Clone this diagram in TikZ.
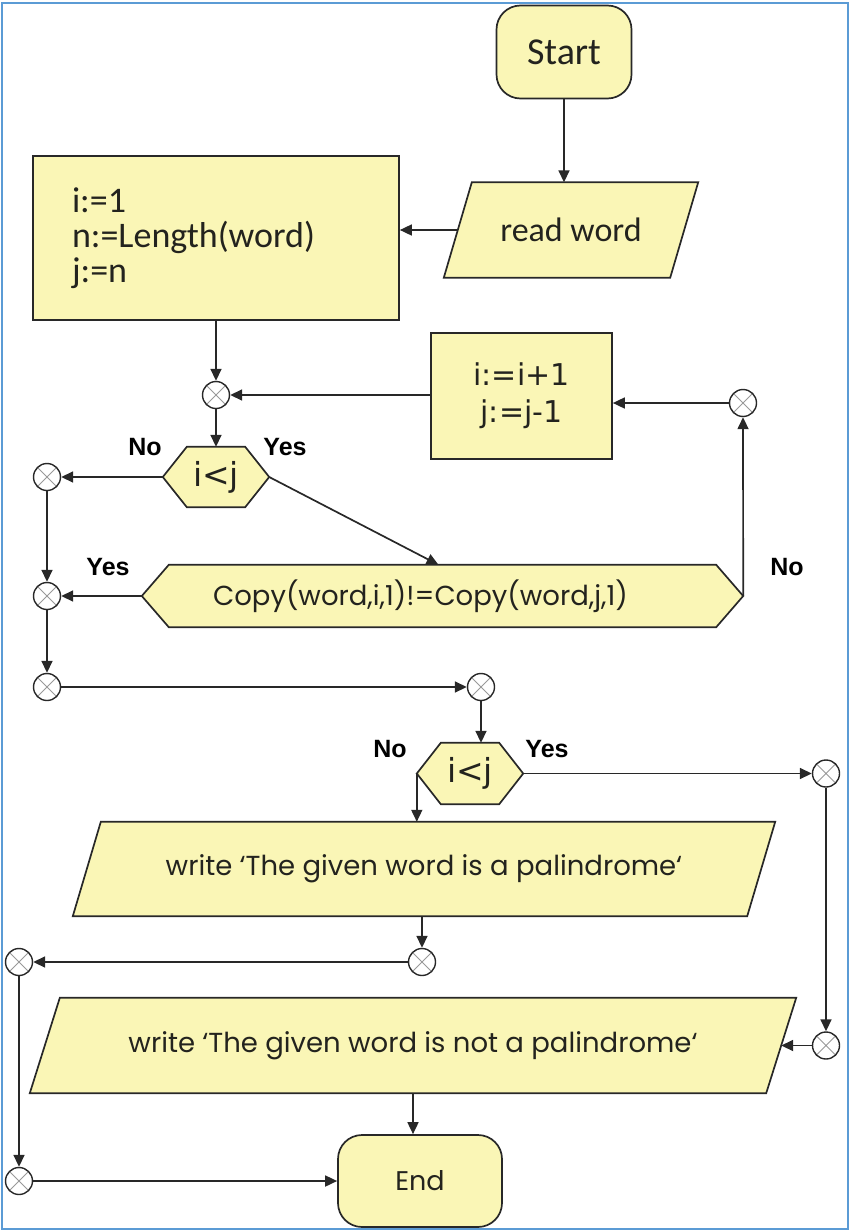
\documentclass[tikz,border=0pt]{standalone}
\usepackage{fontspec}
\setmainfont{Carlito}
\newfontfamily\geofont{Poppins}
\newfontfamily\labfont{Liberation Sans}
\newfontfamily\dvfont{DejaVu Sans}
\usetikzlibrary{arrows.meta,backgrounds,calc}

\definecolor{boxfill}{RGB}{250,246,182}
\definecolor{edgecol}{RGB}{40,40,40}
\definecolor{framecol}{RGB}{91,155,213}
\definecolor{inkcol}{RGB}{35,35,30}

% outline of a six-sided decision box built on a plain rectangular node
\newcommand{\hexpath}[2]{(#1.west) -- ([xshift=#2]#1.north west) -- ([xshift=-#2]#1.north east) -- (#1.east) -- ([xshift=-#2]#1.south east) -- ([xshift=#2]#1.south west) -- cycle}
% outline of an input/output parallelogram built on a plain rectangular node
\newcommand{\parapath}[2]{([xshift=#2]#1.north west) -- (#1.north east) -- ([xshift=-#2]#1.south east) -- (#1.south west) -- cycle}

\tikzset{
  shapeline/.style={draw=edgecol, line width=1.7pt, fill=boxfill},
  procbox/.style={shapeline, rectangle, inner sep=0pt, text=inkcol},
  termbox/.style={shapeline, rectangle, rounded corners=24pt, inner sep=0pt, text=inkcol},
  plainbox/.style={rectangle, draw=none, inner sep=0pt, text=inkcol},
  junction/.style={circle, draw=edgecol, fill=white, line width=1.4pt, minimum size=27pt, inner sep=0pt,
    path picture={\draw[black!40, line width=0.9pt]
      (path picture bounding box.north west) -- (path picture bounding box.south east)
      (path picture bounding box.north east) -- (path picture bounding box.south west);}},
  flow/.style={draw=edgecol, line width=1.7pt, -{Triangle[length=12pt,width=11pt]}},
  branch/.style={font=\labfont\bfseries\fontsize{25}{30}\selectfont, text=black},
}

\begin{document}
\begin{tikzpicture}[x=1pt,y=-1pt]
\useasboundingbox (0,0) rectangle (850,1231);
\draw[framecol, line width=2pt] (2,3) rectangle (848,1229);

% boxes
\node[termbox, minimum width=135pt, minimum height=93pt, font=\fontsize{38}{40}\selectfont] (start) at (564,52) {Start};
\node[plainbox, minimum width=254pt, minimum height=95pt, font=\fontsize{34}{40}\selectfont] (rw) at (571,230) {read word};
\node[procbox, minimum width=366pt, minimum height=164pt, text width=288pt, inner xsep=39pt, align=left,
      font=\fontsize{36}{35}\selectfont] (init) at (216,238) {i:=1\\n:=Length(word)\\j:=n};
\node[procbox, minimum width=181pt, minimum height=126pt, align=center,
      font=\dvfont\fontsize{30}{37}\selectfont] (incr) at (521.5,396) {i:=i+1\\j:=j-1};
\node[plainbox, minimum width=106pt, minimum height=60pt, font=\dvfont\fontsize{33}{36}\selectfont] (hex1) at (216,477) {i<j};
\node[plainbox, minimum width=601pt, minimum height=62pt, font=\geofont\fontsize{27.5}{32}\selectfont] (copy) at (442.5,596) {Copy(word,i,1)!=Copy(word,j,1)\hspace*{44pt}};
\node[plainbox, minimum width=106pt, minimum height=61pt, font=\dvfont\fontsize{33}{36}\selectfont] (hex2) at (470,773.5) {i<j};
\node[plainbox, minimum width=702pt, minimum height=94pt, font=\geofont\fontsize{27.5}{32}\selectfont] (pal) at (424,869) {write ‘The given word is a palindrome‘};
\node[plainbox, minimum width=766pt, minimum height=95pt, font=\geofont\fontsize{27.5}{32}\selectfont] (npal) at (413,1045.5) {write ‘The given word is not a palindrome‘};
\node[termbox, minimum width=164pt, minimum height=92pt, font=\geofont\fontsize{27}{30}\selectfont] (end) at (420,1181) {End};

\begin{scope}[on background layer]
  \path[shapeline] \parapath{rw}{28pt};
  \path[shapeline] \hexpath{hex1}{24pt};
  \path[shapeline] \hexpath{copy}{27pt};
  \path[shapeline] \hexpath{hex2}{24pt};
  \path[shapeline] \parapath{pal}{28pt};
  \path[shapeline] \parapath{npal}{30pt};
\end{scope}

% junction points
\node[junction] (J1) at (216,395) {};
\node[junction] (J2) at (743,403) {};
\node[junction] (J3) at (47,477) {};
\node[junction] (J4) at (47,596) {};
\node[junction] (J5) at (47,687) {};
\node[junction] (J6) at (481,687) {};
\node[junction] (J7) at (826,773.5) {};
\node[junction] (J8) at (422,962) {};
\node[junction] (J9) at (19,962) {};
\node[junction] (J10) at (826,1045.5) {};
\node[junction] (J11) at (19,1181) {};

% branch labels
\node[branch] (no1) at (145,447) {No};
\node[branch] (yes1) at (285,447) {Yes};
\node[branch] (yes2) at (108,567) {Yes};
\node[branch] (no2) at (787,567) {No};
\node[branch] (no3) at (390,749) {No};
\node[branch] (yes3) at (547,749) {Yes};

% connectors
\draw[flow] (start) -- (start |- rw.north);
\draw[flow] ([xshift=14pt]rw.west) -- (init.east |- rw.west);
\draw[flow] (init) -- (J1);
\draw[flow] (incr.west |- J1) -- (J1);
\draw[flow] (J1) -- (hex1.north);
\draw[flow] (hex1.west) -- (J3);
\draw[flow] (hex1.east) -- ([xshift=-4pt]copy.north);
\draw[flow] (J3) -- (J4);
\draw[flow] (copy.west) -- (J4);
\draw[flow] (J4) -- (J5);
\draw[flow] (copy.east) -- (J2);
\draw[flow] (J2) -- (J2 -| incr.east);
\draw[flow] (J5) -- (J6);
\draw[flow] (J6) -- (J6 |- hex2.north);
\draw[flow] (hex2.east) -- (J7);
\draw[flow] (hex2.west) -- (hex2.west |- pal.north);
\draw[flow] (J8 |- pal.south) -- (J8);
\draw[flow] (J8) -- (J9);
\draw[flow] (J9) -- (J11);
\draw[flow] (J7) -- (J10);
\draw[flow] (J10) -- ([xshift=-15pt]npal.east);
\draw[flow] ([xshift=-7pt]end.north |- npal.south) -- ([xshift=-7pt]end.north);
\draw[flow] (J11) -- (end);
\end{tikzpicture}
\end{document}
